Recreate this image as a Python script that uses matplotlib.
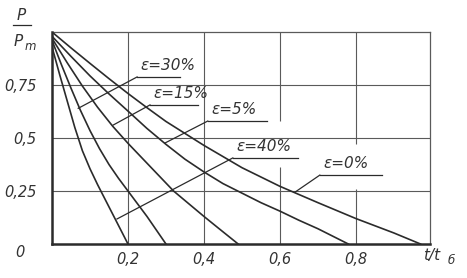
import matplotlib
matplotlib.use("Agg")
from matplotlib import pyplot as plt

# curves: t/t_b and P/P_m for each strain value
eps_labels = ["ε=40%", "ε=30%", "ε=15%", "ε=5%", "ε=0%"]

t_40 = [0, 0.02, 0.04, 0.06, 0.08, 0.10, 0.12, 0.14, 0.16, 0.18, 0.2]
p_40 = [0.93, 0.80, 0.675, 0.55, 0.44, 0.355, 0.28, 0.21, 0.14, 0.07, 0]

t_30 = [0, 0.025, 0.05, 0.075, 0.1, 0.125, 0.15, 0.175, 0.2, 0.225, 0.25, 0.275, 0.3]
p_30 = [0.96, 0.845, 0.735, 0.63, 0.535, 0.45, 0.375, 0.31, 0.25, 0.19, 0.13, 0.065, 0]

t_15 = [0, 0.04, 0.08, 0.12, 0.16, 0.2, 0.24, 0.28, 0.32, 0.36, 0.40, 0.44, 0.49]
p_15 = [0.97, 0.855, 0.745, 0.645, 0.555, 0.475, 0.40, 0.325, 0.25, 0.19, 0.13, 0.072, 0]

t_5 = [0, 0.05, 0.1, 0.15, 0.2, 0.25, 0.3, 0.35, 0.4, 0.45, 0.5, 0.55, 0.6, 0.65, 0.7, 0.78]
p_5 = [0.98, 0.885, 0.793, 0.708, 0.627, 0.545, 0.47, 0.40, 0.34, 0.285, 0.24, 0.195,
       0.155, 0.112, 0.072, 0]

t_0 = [0, 0.05, 0.1, 0.15, 0.2, 0.25, 0.3, 0.4, 0.5, 0.6, 0.7, 0.8, 0.9, 0.97]
p_0 = [1.0, 0.925, 0.852, 0.78, 0.71, 0.643, 0.578, 0.465, 0.36, 0.272, 0.195, 0.12, 0.052, 0]

curves_t = [t_40, t_30, t_15, t_5, t_0]
curves_p = [p_40, p_30, p_15, p_5, p_0]

x_ticks = [0.2, 0.4, 0.6, 0.8]
x_ticklabels = ["0,2", "0,4", "0,6", "0,8"]
y_ticks = [0.25, 0.5, 0.75]
y_ticklabels = ["0,25", "0,5", "0,75"]

# label placement: underline start/end x, underline y, leader end point on curve
lab_x0 = [0.476, 0.224, 0.258, 0.41, 0.705]
lab_x1 = [0.647, 0.337, 0.384, 0.566, 0.868]
lab_y = [0.406, 0.788, 0.656, 0.58, 0.325]
lead_t = [0.171, 0.069, 0.161, 0.297, 0.64]
lead_p = [0.118, 0.64, 0.561, 0.476, 0.245]

ink = "#2b2b2b"
grid_c = "#5a5a5a"
font = {"family": "DejaVu Sans", "style": "italic", "color": "#333333"}

fig = plt.figure(figsize=(4.67, 2.78), dpi=100)
ax = fig.add_axes([52 / 467, 34 / 278, 378 / 467, 212 / 278])
ax.set_xlim(0, 0.995)
ax.set_ylim(0, 1.0)

# grid (vertical lines 0.6 and 0.8 broken where the labels sit)
for y in y_ticks:
    ax.axhline(y, color=grid_c, lw=0.8, zorder=1)
ax.axvline(0.2, color=grid_c, lw=0.8, zorder=1)
ax.axvline(0.4, color=grid_c, lw=0.8, zorder=1)
ax.vlines([0.6, 0.6], [0, 0.58], [0.365, 1.0], color=grid_c, lw=0.8, zorder=1)
ax.vlines([0.8, 0.8], [0, 0.47], [0.26, 1.0], color=grid_c, lw=0.8, zorder=1)

for t, p in zip(curves_t, curves_p):
    ax.plot(t, p, color=ink, lw=1.2, zorder=3, solid_joinstyle="round")

for i in range(len(eps_labels)):
    ax.plot([lab_x0[i], lab_x1[i]], [lab_y[i], lab_y[i]], color=ink, lw=0.9, zorder=3)
    ax.plot([lead_t[i], lab_x0[i]], [lead_p[i], lab_y[i]], color=ink, lw=0.9, zorder=3)
    ax.text(lab_x0[i] + 0.01, lab_y[i] + 0.02, eps_labels[i], fontsize=11,
            ha="left", va="bottom", **font)

for side in ["top", "right"]:
    ax.spines[side].set_linewidth(0.9)
    ax.spines[side].set_color(grid_c)
for side in ["left", "bottom"]:
    ax.spines[side].set_linewidth(1.8)
    ax.spines[side].set_color(ink)

ax.set_xticks(x_ticks)
ax.set_xticklabels(x_ticklabels, fontsize=10.5, fontstyle="italic", color="#333333")
ax.set_yticks(y_ticks)
ax.set_yticklabels(y_ticklabels, fontsize=10.5, fontstyle="italic", color="#333333")
ax.tick_params(axis="both", length=0)
ax.tick_params(axis="x", pad=6)
ax.tick_params(axis="y", pad=11)

ax.text(-0.085, -0.04, "0", fontsize=10.5, ha="center", va="center", **font)
ax.text(1.0, -0.055, "t/t", fontsize=11, ha="center", va="center", **font, clip_on=False)
ax.text(1.05, -0.08, "б", fontsize=8.5, ha="center", va="center", **font, clip_on=False)

fig.text(21 / 467, 1 - 15 / 278, "P", fontsize=11, ha="center", va="center", **font)
fig.add_artist(plt.Line2D([13 / 467, 31 / 467], [1 - 25 / 278, 1 - 25 / 278],
                          color=ink, lw=0.9))
fig.text(18 / 467, 1 - 41 / 278, "P", fontsize=11, ha="center", va="center", **font)
fig.text(30 / 467, 1 - 46 / 278, "m", fontsize=8.5, ha="center", va="center", **font)

fig.savefig("out.png", dpi=100)
